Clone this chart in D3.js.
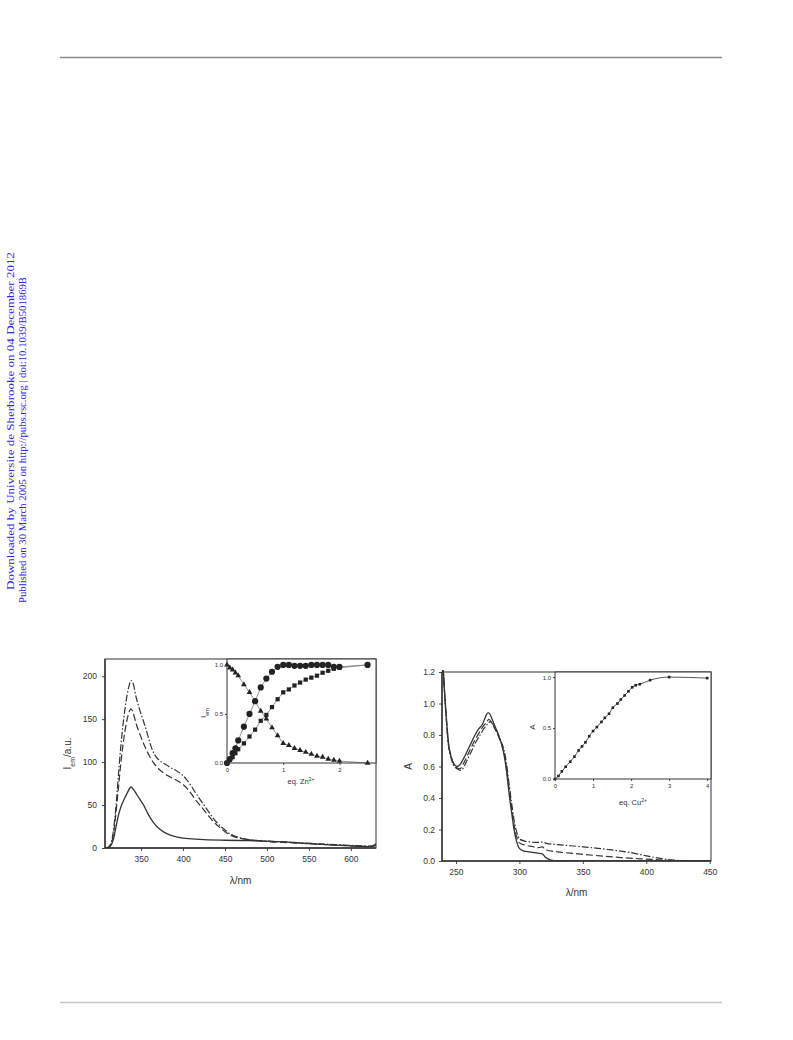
<!DOCTYPE html>
<html><head><meta charset="utf-8">
<script src="https://cdn.jsdelivr.net/npm/d3@7"></script>
<style>
body{margin:0;background:#fff;}
svg{display:block;}
text{font-family:"Liberation Sans",Arial,sans-serif;fill:#333;}
</style></head>
<body>
<svg id="c" width="793" height="1040"></svg>
<script>
// ---------- DATA ----------
// Left main: emission spectra (λ/nm, I_em/a.u.)
const emSolid = [[308,0],[311,0.5],[314,3],[317,10],[320,24],[323,38],[326,48],[330,57],[334,65],[338,71],[341,68],[345,62],[349,56],[353,50],[357,42],[361,35],[366,28],[372,22],[380,17],[390,13.5],[400,11.5],[420,10],[450,9],[480,8.5],[500,8],[530,6.5],[560,4.5],[590,3],[610,2],[620,1.5],[626,2.5],[630,5]];
const emDash = [[308,0],[311,1],[314,4],[317,16],[320,40],[323,70],[326,100],[329,124],[332,143],[335,156],[338,162],[341,156],[344,145],[348,134],[352,124],[356,115],[360,107],[365,99],[370,93],[376,88],[382,84],[388,81],[394,78],[400,74],[406,68],[410,63],[415,56],[420,50],[425,44],[430,38],[435,32],[440,27],[445,23],[450,19],[455,16],[460,13.5],[470,11],[480,9.5],[490,8.5],[500,7.5],[520,6.5],[540,5.5],[560,4.5],[580,3.5],[600,2.5],[615,2],[625,2],[630,3]];
const emDashDot = [[308,0],[311,1],[314,5],[317,20],[320,48],[323,85],[326,120],[329,148],[332,170],[335,186],[338,195],[341,190],[344,176],[348,162],[352,150],[356,138],[360,124],[364,113],[368,106],[373,101],[380,97],[386,93],[392,90],[398,86],[404,80],[410,72],[415,64],[420,57],[425,50],[430,43],[435,36],[440,30],[445,25],[450,21],[455,17],[460,14.5],[470,11.5],[480,9.5],[490,8.5],[500,8],[520,7],[540,6],[560,5],[580,4],[600,3],[615,2.5],[625,2],[630,3]];
// Left inset: eq. Zn2+ vs normalised I_em
const znEq = [0,0.05,0.1,0.15,0.2,0.3,0.4,0.5,0.6,0.7,0.8,0.9,1.0,1.1,1.2,1.3,1.4,1.5,1.6,1.7,1.8,1.9,2.0,2.5];
const znCircle = [0,0.04,0.1,0.15,0.23,0.37,0.5,0.63,0.77,0.86,0.93,0.98,1.0,1.0,0.99,0.99,0.99,1.0,1.0,1.0,1.0,0.98,0.98,1.0];
const znSquare = [0,0.03,0.06,0.1,0.14,0.2,0.27,0.34,0.43,0.49,0.57,0.65,0.72,0.75,0.79,0.82,0.85,0.87,0.89,0.92,0.94,0.96,0.97,1.0];
const znTriangle = [1.0,0.97,0.95,0.92,0.89,0.8,0.72,0.63,0.53,0.45,0.36,0.28,0.2,0.18,0.15,0.13,0.11,0.09,0.07,0.06,0.04,0.03,0.02,0.0];
// Right main: absorption spectra (λ/nm, A)
const abSolid = [[239,1.22],[240,1.2],[241,1.08],[242,0.96],[243,0.85],[244,0.76],[245,0.70],[247,0.64],[249,0.61],[251,0.60],[253,0.61],[256,0.65],[259,0.70],[262,0.75],[265,0.80],[268,0.84],[271,0.87],[273,0.91],[275,0.94],[276,0.94],[278,0.91],[280,0.87],[283,0.81],[286,0.74],[288,0.67],[290,0.56],[292,0.42],[294,0.30],[296,0.19],[298,0.12],[300,0.08],[303,0.065],[308,0.058],[313,0.052],[318,0.045],[321,0.02],[325,0.006],[330,0.002],[350,0],[451,0]];
const abDash = [[239,1.22],[240,1.2],[241,1.07],[242,0.95],[243,0.84],[244,0.75],[246,0.67],[248,0.62],[250,0.595],[253,0.585],[256,0.62],[259,0.67],[262,0.72],[265,0.77],[268,0.81],[271,0.85],[274,0.88],[276,0.90],[278,0.88],[280,0.85],[283,0.80],[286,0.74],[288,0.68],[290,0.58],[292,0.45],[294,0.33],[296,0.22],[298,0.15],[300,0.115],[305,0.10],[310,0.092],[315,0.085],[318,0.09],[321,0.07],[330,0.058],[340,0.05],[360,0.035],[380,0.022],[400,0.012],[415,0.005],[430,0.001],[451,0]];
const abDashDot = [[239,1.22],[240,1.2],[241,1.06],[242,0.94],[243,0.83],[244,0.74],[246,0.66],[248,0.61],[251,0.585],[254,0.575],[257,0.61],[260,0.66],[263,0.71],[266,0.76],[269,0.80],[272,0.84],[275,0.87],[277,0.885],[279,0.87],[282,0.83],[285,0.77],[288,0.70],[290,0.61],[292,0.48],[294,0.36],[296,0.25],[298,0.18],[300,0.14],[305,0.125],[310,0.12],[315,0.118],[318,0.12],[322,0.11],[330,0.104],[340,0.097],[350,0.09],[360,0.082],[370,0.073],[380,0.063],[390,0.05],[400,0.033],[410,0.018],[420,0.007],[430,0.002],[451,0]];
// Right inset: eq. Cu2+ vs A
const cuEq = [0,0.09,0.18,0.28,0.4,0.51,0.62,0.71,0.8,0.9,1.0,1.1,1.22,1.31,1.42,1.52,1.64,1.73,1.83,1.93,2.03,2.12,2.23,2.5,3.0,4.0];
const cuA = [0,0.03,0.075,0.12,0.17,0.22,0.28,0.32,0.36,0.42,0.47,0.51,0.56,0.6,0.64,0.7,0.74,0.78,0.82,0.86,0.9,0.92,0.93,0.97,1.0,0.99];
// Tick labels
const leftXTicks = [350,400,450,500,550,600];
const leftYTicks = [0,50,100,150,200];
const rightXTicks = [250,300,350,400,450];
const rightYTicks = [0,0.2,0.4,0.6,0.8,1.0,1.2];
const znXTicks = [0,1,2];
const insetYTicks = [0,0.5,1.0];
const cuXTicks = [0,1,2,3,4];
const sideText = ["Downloaded by Universite de Sherbrooke on 04 December 2012","Published on 30 March 2005 on http://pubs.rsc.org | doi:10.1039/B501869B"];

// ---------- DRAW ----------
const svg = d3.select("#c");
const ink = "#333";

// page rules
svg.append("line").attr("x1",60).attr("x2",722).attr("y1",57.5).attr("y2",57.5).attr("stroke","#8a8a8a").attr("stroke-width",1.5);
svg.append("line").attr("x1",60).attr("x2",722).attr("y1",1002.5).attr("y2",1002.5).attr("stroke","#c6c6c6").attr("stroke-width",1.5);

// side watermark
svg.append("text").attr("transform","translate(13.5,421) rotate(-90)").attr("text-anchor","middle")
  .attr("textLength",338).attr("lengthAdjust","spacingAndGlyphs")
  .style("font-family","'Liberation Serif','Times New Roman',serif").style("font-size","10.5px").style("fill","#2a2ad6").text(sideText[0]);
svg.append("text").attr("transform","translate(25.5,440) rotate(-90)").attr("text-anchor","middle")
  .attr("textLength",326).attr("lengthAdjust","spacingAndGlyphs")
  .style("font-family","'Liberation Serif','Times New Roman',serif").style("font-size","10.5px").style("fill","#2a2ad6").text(sideText[1]);

function frame(g,x0,y0,x1,y1,w){
  g.append("rect").attr("x",x0).attr("y",y0).attr("width",x1-x0).attr("height",y1-y0)
   .attr("fill","none").attr("stroke",ink).attr("stroke-width",w||1);
}
function styleAxis(a,fs){
  a.select(".domain").remove();
  a.selectAll(".tick line").attr("stroke",ink).attr("stroke-width",0.9);
  a.selectAll(".tick text").style("font-size",fs+"px").style("fill",ink).style("font-family","'Liberation Sans',Arial,sans-serif");
}
function drawLine(g,data,x,y,dash,w){
  const line = d3.line().x(d=>x(d[0])).y(d=>y(d[1])).curve(d3.curveMonotoneX);
  g.append("path").datum(data).attr("d",line).attr("fill","none").attr("stroke",ink)
   .attr("stroke-width",w||1.2).attr("stroke-dasharray",dash||null).attr("stroke-linejoin","round");
}

// ===== LEFT MAIN =====
const L = {x0:105,x1:376,y0:659,y1:848};
const lx = d3.scaleLinear().domain([307,630]).range([L.x0,L.x1]);
const ly = d3.scaleLinear().domain([0,220]).range([L.y1,L.y0]);
const gL = svg.append("g");
svg.append("clipPath").attr("id","clipL").append("rect").attr("x",L.x0).attr("y",L.y0).attr("width",L.x1-L.x0).attr("height",L.y1-L.y0);
const gLc = gL.append("g").attr("clip-path","url(#clipL)");
drawLine(gLc,emSolid,lx,ly,null,1.3);
drawLine(gLc,emDash,lx,ly,"7,3",1.2);
drawLine(gLc,emDashDot,lx,ly,"7,2,1.5,2",1.2);
styleAxis(gL.append("g").attr("transform",`translate(0,${L.y1})`).call(d3.axisBottom(lx).tickValues(leftXTicks).tickSize(3).tickPadding(5)),8.5);
styleAxis(gL.append("g").attr("transform",`translate(${L.x0},0)`).call(d3.axisLeft(ly).tickValues(leftYTicks).tickSize(3).tickPadding(5)),8.5);
frame(gL,L.x0,L.y0,L.x1,L.y1,1);
gL.append("line").attr("x1",L.x0).attr("x2",L.x0).attr("y1",L.y0).attr("y2",L.y1).attr("stroke",ink).attr("stroke-width",1.4);
gL.append("line").attr("x1",L.x0).attr("x2",L.x1).attr("y1",L.y1).attr("y2",L.y1).attr("stroke",ink).attr("stroke-width",1.4);
gL.append("text").attr("x",(L.x0+L.x1)/2).attr("y",884).attr("text-anchor","middle").style("font-size","10px").text("λ/nm");
const yt = gL.append("text").attr("transform",`translate(71,${(L.y0+L.y1)/2}) rotate(-90)`).attr("text-anchor","middle").style("font-size","10px");
yt.append("tspan").text("I");
yt.append("tspan").attr("baseline-shift","sub").style("font-size","7px").text("em");
yt.append("tspan").text("/a.u.");

// ===== LEFT INSET =====
const LI = {x0:227,x1:376,y0:659,y1:763};
const ix = d3.scaleLinear().domain([0,2.65]).range([LI.x0,LI.x1]);
const iy = d3.scaleLinear().domain([0,1.06]).range([LI.y1,LI.y0]);
const gI = svg.append("g");
gI.append("rect").attr("x",LI.x0).attr("y",LI.y0).attr("width",LI.x1-LI.x0).attr("height",LI.y1-LI.y0).attr("fill","#fff");
const seriesZ = [znCircle,znSquare,znTriangle];
const lineI = d3.line().x((d,i)=>ix(znEq[i])).y(d=>iy(d));
seriesZ.forEach(s=>gI.append("path").datum(s).attr("d",lineI).attr("fill","none").attr("stroke","#777").attr("stroke-width",0.8));
gI.selectAll(".ci").data(znCircle).join("circle").attr("cx",(d,i)=>ix(znEq[i])).attr("cy",d=>iy(d)).attr("r",3.1).attr("fill","#222");
gI.selectAll(".sq").data(znSquare).join("rect").attr("x",(d,i)=>ix(znEq[i])-2.1).attr("y",d=>iy(d)-2.1).attr("width",4.2).attr("height",4.2).attr("fill","#222");
const tri = d3.symbol().type(d3.symbolTriangle).size(14);
gI.selectAll(".tr").data(znTriangle).join("path").attr("d",tri).attr("transform",(d,i)=>`translate(${ix(znEq[i])},${iy(d)})`).attr("fill","#222");
styleAxis(gI.append("g").attr("transform",`translate(0,${LI.y1})`).call(d3.axisBottom(ix).tickValues(znXTicks).tickSize(2).tickPadding(3).tickFormat(d3.format("d"))),6);
styleAxis(gI.append("g").attr("transform",`translate(${LI.x0},0)`).call(d3.axisLeft(iy).tickValues(insetYTicks).tickSize(2).tickPadding(2).tickFormat(d3.format(".1f"))),6);
frame(gI,LI.x0,LI.y0,LI.x1,LI.y1,1);
const it = gI.append("text").attr("transform",`translate(206,713) rotate(-90)`).attr("text-anchor","middle").style("font-size","8px");
it.append("tspan").text("I");
it.append("tspan").attr("baseline-shift","sub").style("font-size","5.5px").text("em");
const ixl = gI.append("text").attr("x",301).attr("y",784).attr("text-anchor","middle").style("font-size","7.5px");
ixl.append("tspan").text("eq. Zn");
ixl.append("tspan").attr("baseline-shift","super").style("font-size","5px").text("2+");

// ===== RIGHT MAIN =====
const R = {x0:442,x1:711,y0:672,y1:861};
const rx = d3.scaleLinear().domain([239,451]).range([R.x0,R.x1]);
const ry = d3.scaleLinear().domain([0,1.2]).range([R.y1,R.y0]);
const gR = svg.append("g");
svg.append("clipPath").attr("id","clipR").append("rect").attr("x",R.x0).attr("y",R.y0-2).attr("width",R.x1-R.x0).attr("height",R.y1-R.y0+2);
const gRc = gR.append("g").attr("clip-path","url(#clipR)");
drawLine(gRc,abSolid,rx,ry,null,1.3);
drawLine(gRc,abDash,rx,ry,"7,3",1.2);
drawLine(gRc,abDashDot,rx,ry,"7,2,1.5,2",1.2);
styleAxis(gR.append("g").attr("transform",`translate(0,${R.y1})`).call(d3.axisBottom(rx).tickValues(rightXTicks).tickSize(3).tickPadding(5)),8.5);
styleAxis(gR.append("g").attr("transform",`translate(${R.x0},0)`).call(d3.axisLeft(ry).tickValues(rightYTicks).tickSize(3).tickPadding(4).tickFormat(d3.format(".1f"))),8.5);
frame(gR,R.x0,R.y0,R.x1,R.y1,1);
gR.append("line").attr("x1",R.x0).attr("x2",R.x0).attr("y1",R.y0).attr("y2",R.y1).attr("stroke",ink).attr("stroke-width",1.4);
gR.append("line").attr("x1",R.x0).attr("x2",R.x1).attr("y1",R.y1).attr("y2",R.y1).attr("stroke",ink).attr("stroke-width",1.4);
gR.append("text").attr("x",(R.x0+R.x1)/2).attr("y",896).attr("text-anchor","middle").style("font-size","10px").text("λ/nm");
gR.append("text").attr("transform",`translate(412,${(R.y0+R.y1)/2}) rotate(-90)`).attr("text-anchor","middle").style("font-size","10px").text("A");

// ===== RIGHT INSET =====
const RI = {x0:555,x1:711,y0:672,y1:779};
const cx = d3.scaleLinear().domain([0,4.1]).range([RI.x0,RI.x1]);
const cy = d3.scaleLinear().domain([0,1.05]).range([RI.y1,RI.y0]);
const gC = svg.append("g");
gC.append("rect").attr("x",RI.x0).attr("y",RI.y0).attr("width",RI.x1-RI.x0).attr("height",RI.y1-RI.y0).attr("fill","#fff");
const cuPts = cuEq.map((e,i)=>[e,cuA[i]]);
gC.append("path").datum(cuPts).attr("d",d3.line().x(d=>cx(d[0])).y(d=>cy(d[1])).curve(d3.curveMonotoneX))
  .attr("fill","none").attr("stroke","#444").attr("stroke-width",0.9);
gC.selectAll(".cp").data(cuPts).join("rect").attr("x",d=>cx(d[0])-1.3).attr("y",d=>cy(d[1])-1.3).attr("width",2.6).attr("height",2.6).attr("fill","#222");
styleAxis(gC.append("g").attr("transform",`translate(0,${RI.y1})`).call(d3.axisBottom(cx).tickValues(cuXTicks).tickSize(2).tickPadding(3).tickFormat(d3.format("d"))),6);
styleAxis(gC.append("g").attr("transform",`translate(${RI.x0},0)`).call(d3.axisLeft(cy).tickValues(insetYTicks).tickSize(2).tickPadding(2).tickFormat(d3.format(".1f"))),6);
frame(gC,RI.x0,RI.y0,RI.x1,RI.y1,1);
gC.append("text").attr("transform",`translate(535,727) rotate(-90)`).attr("text-anchor","middle").style("font-size","8px").text("A");
const cxl = gC.append("text").attr("x",(RI.x0+RI.x1)/2).attr("y",805).attr("text-anchor","middle").style("font-size","7.5px");
cxl.append("tspan").text("eq. Cu");
cxl.append("tspan").attr("baseline-shift","super").style("font-size","5px").text("2+");
</script>
</body></html>
